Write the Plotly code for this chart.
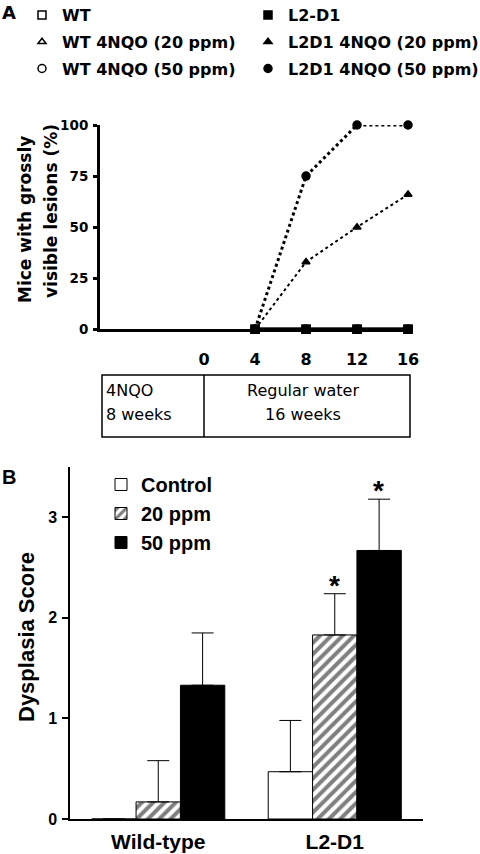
import plotly.graph_objects as go

# ---------------- Data ----------------
weeks = [4, 8, 12, 16]
wt = [0, 0, 0, 0]
wt_20 = [0, 0, 0, 0]
wt_50 = [0, 0, 0, 0]
l2d1 = [0, 0, 0, 0]
l2d1_20 = [0, 33, 50, 66]
l2d1_50 = [0, 75, 100, 100]
a_xticks = [0, 4, 8, 12, 16]
a_yticks = [0, 25, 50, 75, 100]

groups = ["Wild-type", "L2-D1"]
control = [0, 0.47]
control_err = [None, 0.51]
ppm20 = [0.17, 1.83]
ppm20_err = [0.41, 0.41]
ppm50 = [1.33, 2.67]
ppm50_err = [0.52, 0.51]
b_yticks = [0, 1, 2, 3]

W, H = 480, 854
DEJ = "DejaVu Sans, sans-serif"
LIB = "Liberation Sans, Arial, sans-serif"


def px(x):
    return x / W


def py(y):
    return 1 - y / H


fig = go.Figure()

# ---------------- Panel A ----------------
series = [
    ("WT", wt, "square-open", 8, "solid", 3, "legend"),
    ("WT 4NQO (20 ppm)", wt_20, "triangle-up-open", 7, "solid", 3, "legend"),
    ("WT 4NQO (50 ppm)", wt_50, "circle-open", 8, "solid", 3, "legend"),
    ("L2-D1", l2d1, "square", 8, "solid", 3, "legend2"),
    ("L2D1 4NQO (20 ppm)", l2d1_20, "triangle-up", 7, "dot", 2, "legend2"),
    ("L2D1 4NQO (50 ppm)", l2d1_50, "circle", 8, "dot", 3, "legend2"),
]

for name, vals, sym, size, dash, lw, leg in series:
    fig.add_trace(go.Scatter(
        x=weeks, y=vals, mode="lines", showlegend=False,
        line=dict(color="black", width=lw, dash=dash),
        xaxis="x", yaxis="y", cliponaxis=False, hoverinfo="skip",
    ))

for name, vals, sym, size, dash, lw, leg in series:
    fig.add_trace(go.Scatter(
        x=weeks, y=vals, mode="markers", name=name,
        legend=leg, legendgroup=name,
        marker=dict(symbol=sym, size=size, color="black",
                    line=dict(color="black", width=1.5)),
        xaxis="x", yaxis="y", cliponaxis=False,
    ))

# ---------------- Panel B ----------------
fig.add_trace(go.Bar(
    x=groups, y=control, name="Control", legend="legend3",
    marker=dict(color="white", line=dict(color="black", width=1)),
    error_y=dict(type="data", array=control_err, symmetric=False,
                 arrayminus=[0, 0], color="black", thickness=1, width=11),
    xaxis="x2", yaxis="y2",
))
fig.add_trace(go.Bar(
    x=groups, y=ppm20, name="20 ppm", legend="legend3",
    marker=dict(color="white", line=dict(color="black", width=1),
                pattern=dict(shape="/", fgcolor="black", bgcolor="white",
                             size=8, solidity=0.5, fillmode="overlay")),
    error_y=dict(type="data", array=ppm20_err, symmetric=False,
                 arrayminus=[0, 0], color="black", thickness=1, width=11),
    xaxis="x2", yaxis="y2",
))
fig.add_trace(go.Bar(
    x=groups, y=ppm50, name="50 ppm", legend="legend3",
    marker=dict(color="black", line=dict(color="black", width=1)),
    error_y=dict(type="data", array=ppm50_err, symmetric=False,
                 arrayminus=[0, 0], color="black", thickness=1, width=11),
    xaxis="x2", yaxis="y2",
))

# ---------------- Layout ----------------
fig.update_layout(
    template="none",
    width=W, height=H,
    margin=dict(l=0, r=0, t=0, b=0, autoexpand=False),
    paper_bgcolor="white", plot_bgcolor="white",
    font=dict(family=LIB, color="black"),
    barmode="group", bargap=0.246, bargroupgap=0,
    xaxis=dict(
        domain=[px(100), px(413)], range=[-8.16, 16.39],
        tickvals=a_xticks, ticks="", showgrid=False, zeroline=False,
        showline=True, linewidth=3, linecolor="black",
        tickfont=dict(family=DEJ, size=16, color="black", weight="bold"),
        anchor="y", ticklabelstandoff=13, automargin=False,
    ),
    yaxis=dict(
        domain=[py(329.3), py(125)], range=[0, 100],
        tickvals=a_yticks, ticks="outside", ticklen=4, tickwidth=3,
        tickcolor="black", showgrid=False, zeroline=False,
        showline=True, linewidth=3, linecolor="black",
        tickfont=dict(family=DEJ, size=13.5, color="black", weight="bold"),
        anchor="x", ticklabelstandoff=2, automargin=False,
    ),
    xaxis2=dict(
        domain=[px(70), px(423)], range=[-0.5, 1.5],
        ticks="", showgrid=False, zeroline=False, showline=True,
        linewidth=1.5, linecolor="black", anchor="y2",
        tickfont=dict(family=LIB, size=21, color="black", weight="bold"),
        ticklabelstandoff=3, automargin=False,
    ),
    yaxis2=dict(
        domain=[py(819), py(467)], range=[0, 3.5],
        tickvals=b_yticks, ticks="outside", ticklen=6, tickwidth=1.5,
        tickcolor="black", showgrid=False, zeroline=False,
        showline=True, linewidth=1.5, linecolor="black",
        tickfont=dict(family=LIB, size=16, color="black", weight="bold"),
        anchor="x2", ticklabelstandoff=2, automargin=False,
    ),
    legend=dict(
        x=px(22), y=py(-2), xanchor="left", yanchor="top",
        bgcolor="rgba(0,0,0,0)", tracegroupgap=3, traceorder="grouped",
        font=dict(family=DEJ, size=16, color="black", weight="bold"),
        itemclick=False,
    ),
    legend2=dict(
        x=px(248), y=py(-2), xanchor="left", yanchor="top",
        bgcolor="rgba(0,0,0,0)", tracegroupgap=3, traceorder="grouped",
        font=dict(family=DEJ, size=16, color="black", weight="bold"),
        itemclick=False,
    ),
    legend3=dict(
        x=px(101), y=py(465), xanchor="left", yanchor="top",
        bgcolor="rgba(0,0,0,0)", traceorder="normal",
        font=dict(family=LIB, size=20, color="black", weight="bold"),
        itemclick=False,
    ),
)

# Treatment timeline box
fig.add_shape(type="rect", xref="paper", yref="paper",
              x0=px(102), x1=px(410), y0=py(437), y1=py(375),
              line=dict(color="black", width=1.5))
fig.add_shape(type="line", xref="paper", yref="paper",
              x0=px(204), x1=px(204), y0=py(437), y1=py(375),
              line=dict(color="black", width=1.5))

annots = [
    dict(text="<b>A</b>", x=px(0), y=py(12.5), xanchor="left", fam=DEJ, size=18, ang=0),
    dict(text="<b>B</b>", x=px(0), y=py(477), xanchor="left", fam=LIB, size=20, ang=0),
    dict(text="4NQO", x=px(104), y=py(391), xanchor="left", fam=DEJ, size=16, ang=0),
    dict(text="8 weeks", x=px(104), y=py(414), xanchor="left", fam=DEJ, size=16, ang=0),
    dict(text="Regular water", x=px(303), y=py(391), xanchor="center", fam=DEJ, size=16, ang=0),
    dict(text="16 weeks", x=px(303), y=py(414), xanchor="center", fam=DEJ, size=16, ang=0),
    # Panel A y-axis title (two lines)
    dict(text="<b>Mice with grossly</b>", x=px(25), y=py(220), xanchor="center", fam=DEJ, size=17, ang=-90),
    dict(text="<b>visible lesions (%)</b>", x=px(51), y=py(211), xanchor="center", fam=DEJ, size=17, ang=-90),
    # Panel B y-axis title
    dict(text="<b>Dysplasia Score</b>", x=px(26), y=py(637), xanchor="center", fam=LIB, size=22, ang=-90),
]
for a in annots:
    fig.add_annotation(text=a["text"], x=a["x"], y=a["y"], xref="paper", yref="paper",
                       xanchor=a["xanchor"], yanchor="middle", showarrow=False,
                       textangle=a["ang"],
                       font=dict(family=a["fam"], size=a["size"], color="black"))

# Significance asterisks above error bars (L2-D1 20 ppm and 50 ppm)
for val, err, shift in [(ppm20[1], ppm20_err[1], 0), (ppm50[1], ppm50_err[1], 44)]:
    fig.add_annotation(text="<b>*</b>", x=groups[1], y=val + err,
                       xref="x2", yref="y2", xshift=shift, yshift=-9,
                       showarrow=False, yanchor="bottom",
                       font=dict(family=LIB, size=28, color="black"))

fig.write_html("out.html", config={"displayModeBar": False},
               post_script="document.body.style.margin='0';")
